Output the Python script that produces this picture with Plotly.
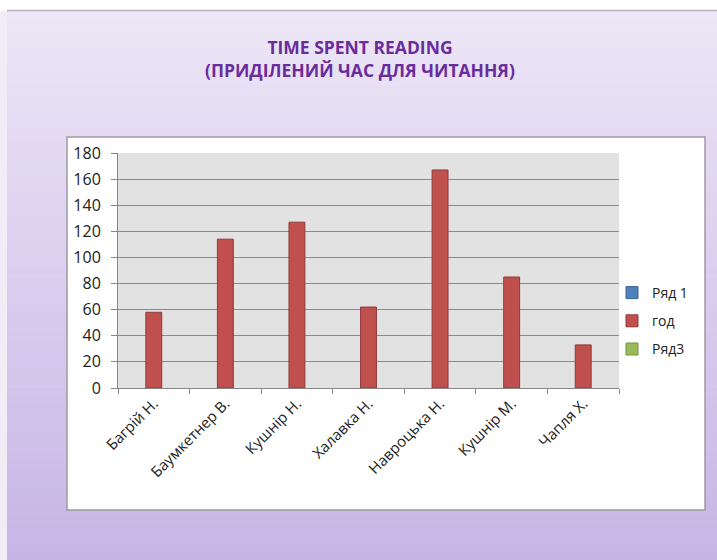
import plotly.graph_objects as go

# ---- data ----
categories = ["Багрій Н.", "Баумкетнер В.", "Кушнір Н.", "Халавка Н.",
              "Навроцька Н.", "Кушнір М.", "Чапля Х."]
series_names = ["Ряд 1", "год", "Ряд3"]
row1_values = [None, None, None, None, None, None, None]
god_values = [58, 114, 127, 62, 167, 85, 33]
row3_values = [None, None, None, None, None, None, None]
y_ticks = [0, 20, 40, 60, 80, 100, 120, 140, 160, 180]
title_text = "TIME SPENT READING<br>(ПРИДІЛЕНИЙ ЧАС ДЛЯ ЧИТАННЯ)"

W, H = 717, 560
L, R, T, B = 118, 619, 153, 388  # plot area in pixels


def px2x(px):
    return (px - L) / (R - L)


def px2y(py):
    return (B - py) / (B - T)


FONT = "Open Sans, Noto Sans, DejaVu Sans, sans-serif"

shapes = []
# left light strip
shapes.append(dict(type="rect", xref="paper", yref="paper", layer="below",
                   x0=px2x(0), x1=px2x(7), y0=px2y(H), y1=px2y(11),
                   fillcolor="#f1edf7", line=dict(width=0)))
# gradient background
top_c = (236, 230, 246)
bot_c = (199, 181, 230)
y_start, y_end = 11, H
n = 60
for i in range(n):
    a = y_start + (y_end - y_start) * i / n
    b = y_start + (y_end - y_start) * (i + 1) / n
    t = i / (n - 1)
    c = tuple(round(top_c[k] + (bot_c[k] - top_c[k]) * t) for k in range(3))
    shapes.append(dict(type="rect", xref="paper", yref="paper", layer="below",
                       x0=px2x(7), x1=px2x(W), y0=px2y(b + 0.5), y1=px2y(a),
                       fillcolor="rgb(%d,%d,%d)" % c, line=dict(width=0)))
# top grey line
shapes.append(dict(type="line", xref="paper", yref="paper", layer="below",
                   x0=px2x(7), x1=px2x(W), y0=px2y(10.5), y1=px2y(10.5),
                   line=dict(color="#b7aec4", width=1.5)))
# chart box
shapes.append(dict(type="rect", xref="paper", yref="paper", layer="below",
                   x0=px2x(67), x1=px2x(705), y0=px2y(510), y1=px2y(137),
                   fillcolor="white", line=dict(color="#9d9aa3", width=1.5)))
# plot area
shapes.append(dict(type="rect", xref="paper", yref="paper", layer="below",
                   x0=0, x1=1, y0=0, y1=1,
                   fillcolor="#e2e2e2", line=dict(width=0)))

fig = go.Figure()
colors = ["#4f81bd", "#c0504d", "#9bbb59"]
outlines = ["#3a6393", "#8e3a38", "#76923c"]
for name, vals, col, oc in zip(series_names, [row1_values, god_values, row3_values], colors, outlines):
    fig.add_trace(go.Bar(x=categories, y=vals, name=name, legendgroup=name,
                         marker=dict(color=col, line=dict(color=oc, width=1))))

fig.update_layout(
    width=W, height=H,
    margin=dict(l=L, r=W - R, t=T, b=H - B, pad=0),
    paper_bgcolor="white",
    plot_bgcolor="rgba(0,0,0,0)",
    barmode="group", bargap=1.5 / 4.5, bargroupgap=0,
    shapes=shapes,
    showlegend=True,
    legend=dict(x=px2x(612), y=px2y(277), xanchor="left", yanchor="top",
                bgcolor="rgba(0,0,0,0)", tracegroupgap=7,
                font=dict(family=FONT, size=14, color="#222"),
                itemclick=False),
    annotations=[dict(text="<b>" + title_text + "</b>", xref="paper", yref="paper",
                      x=px2x(360), y=px2y(58), xanchor="center", yanchor="middle",
                      showarrow=False,
                      font=dict(family=FONT, size=17.5, color="#6a2c9c"))],
    font=dict(family=FONT, color="#222"),
)
fig.update_xaxes(
    type="category", showline=True, linecolor="#868686", linewidth=1,
    ticks="outside", tickson="boundaries", ticklen=5, tickcolor="#868686",
    tickangle=-45, tickfont=dict(family=FONT, size=15, color="#222"),
    showgrid=False, fixedrange=True,
)
fig.update_yaxes(
    range=[0, 180], tickvals=y_ticks, showline=True, linecolor="#868686", linewidth=1,
    ticks="outside", ticklen=6, tickcolor="#868686",
    showgrid=True, gridcolor="#8a8a8a", gridwidth=1, zeroline=False,
    tickfont=dict(family=FONT, size=16, color="#222"), ticklabelstandoff=7,
    fixedrange=True,
)
fig.write_html("out.html", config={"displayModeBar": False},
               post_script="document.body.style.margin='0';")
